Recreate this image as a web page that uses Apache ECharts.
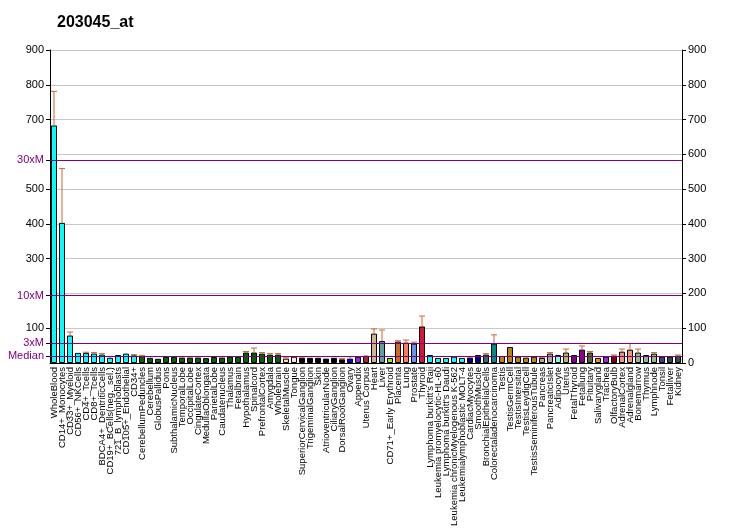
<!DOCTYPE html>
<html>
<head>
<meta charset="utf-8">
<script src="https://cdn.jsdelivr.net/npm/echarts@6/dist/echarts.min.js"></script>
<style>html,body{margin:0;padding:0;background:#fff;}#c{width:732px;height:530px;}</style>
</head>
<body>
<div id="c"></div>
<script>
const title = '203045_at';
const categories = ['WholeBlood','CD14+_Monocytes','CD33+_Myeloid','CD56+_NKCells','CD4+_Tcells','CD8+_Tcells','BDCA4+_DentriticCells','CD19+_BCells(neg._sel.)','721_B_lymphoblasts','CD105+_Endothelial','CD34+',
'CerebellumPeduncles','Cerebellum','GlobusPallidus','Pons','SubthalamicNucleus','TemporalLobe','OccipitalLobe','CingulateCortex','MedullaOblongata','ParietalLobe','Caudatenucleus','Thalamus','Fetalbrain','Hypothalamus','Spinalcord','PrefrontalCortex','Amygdala','Wholebrain',
'SkeletalMuscle','Tongue','SuperiorCervicalGanglion','TrigeminalGanglion','Skin','AtrioventricularNode','CiliaryGanglion','DorsalRootGanglion','Ovary','Appendix','Uterus Corpus','Heart','Liver','CD71+_Early Erythroid','Placenta','Lung','Prostate','Thyroid',
"Lymphoma burkitt's Raji",'Leukemia promyelocytic-HL-60',"Lymphoma burkitt's Daudi",'Leukemia chronicMyelogenous K-562','Leukemialymphoblastic MOLT-4','CardiacMyocytes','SmoothMuscle','BronchialEpithelialCells','Colorectaladenocarcinoma',
'Testis','TestisGermCell','TestisIntersitial','TestisLeydigCell','TestisSeminiferousTubule','Pancreas','PancreaticIslet','Adipocyte','Uterus','FetalThyroid','Fetallung','Pituitary','Salivarygland','Trachea','OlfactoryBulb','AdrenalCortex','Adrenalgland','Bonemarrow','Thymus','Lymphnode','Tonsil','Fetalliver','Kidney'];
const values = [683,403,79,29,29,27,24,15,23,27,22,
20,15,12,18,18,15,15,15,14,17,15,18,18,30,30,27,24,24,
12.5,18,15,15,15,12.5,15,10.6,12.5,18,21,84.5,63,14.4,61.5,58.6,55.7,105,
23,14.4,14.4,18.2,14.4,15.4,23,24,55.7,
20,46,18.2,15.4,18.2,14.4,27,23,30,23,38.4,30,14.4,18.2,21,32.6,38.4,30,23,27,18.2,18.2,21];
const errorTop = [781,559,89,29,31,30,27,19,23,27,24,
22,15,12,18,18,17,17,17,14,17,17,18,18,33,43,30,27,27,
15,18,17,15,15,12.5,15,12.5,18,18,21,98,95,14.4,64,66,60,135,
23,14.4,14.4,18.2,14.4,17,23,27,81,
20,46,18.2,15.4,18.2,15.5,30,23,40,23,49,33,14.4,18.2,23,40,56,40,23,30,18.2,18.2,23];
const barColors = ['#00FFFF','#00FFFF','#00FFFF','#00FFFF','#00FFFF','#00FFFF','#00FFFF','#00FFFF','#00FFFF','#00FFFF','#00FFFF',
'#006400','#006400','#006400','#006400','#006400','#006400','#006400','#006400','#006400','#006400','#006400','#006400','#006400','#006400','#006400','#006400','#006400','#006400',
'#FFDAB9','#FFE4C4','#000000','#000000','#000000','#000000','#000000','#000000','#0000FF','#8A2BE2','#A52A2A','#D2B48C','#5F9EA0','#7FFF00','#D2691E','#FF7F50','#6495ED','#DC143C',
'#00FFFF','#00FFFF','#00FFFF','#00FFFF','#00FFFF','#000080','#000080','#2F6F6F','#008B8B',
'#B8860B','#B8860B','#B8860B','#B8860B','#B8860B','#A9A9A9','#A9A9A9','#7FFFD4','#BDB76B','#8B008B','#8B008B','#556B2F','#FF8C00','#9932CC','#8B0000','#E9967A','#E9967A','#8FBC8F','#8FBC8F','#8FBC8F','#483D8B','#2F4F4F','#2F4F4F'];
const refValues = [19.4, 58, 194, 583];
const refNames = ['Median','3xM','10xM','30xM'];
const leftTickValues = [100,300,400,500,700,800,900];
const rightTickLabels = [0,100,200,300,400,500,600,700,800,900];

const leftAll = leftTickValues.concat(refValues).sort((a,b)=>a-b);
const font = 'Liberation Sans, Arial, sans-serif';
const chart = echarts.init(document.getElementById('c'), null, {renderer:'canvas'});
chart.setOption({
  animation:false,
  backgroundColor:'#fff',
  title:{text:title,left:52,top:10,textStyle:{fontFamily:font,fontSize:16,fontWeight:'bold',color:'#000'}},
  grid:{left:50,right:50,top:50,bottom:167,containLabel:false},
  xAxis:{type:'category',data:categories,
    axisLine:{lineStyle:{color:'#000',width:1}},
    axisTick:{alignWithLabel:true,length:4,lineStyle:{color:'#000'}},
    axisLabel:{interval:0,rotate:90,fontSize:9.5,fontFamily:font,color:'#000',margin:4}},
  yAxis:[
    {type:'value',min:0,max:900,position:'left',
     axisLine:{show:true,lineStyle:{color:'#000'}},
     axisTick:{show:true,length:4,customValues:leftAll,lineStyle:{color:'#000'}},
     axisLabel:{customValues:leftAll,fontSize:11,fontFamily:font,margin:6,
       formatter:function(v){const k=refValues.indexOf(v);return k>=0?refNames[k]:String(v);},
       color:function(v){return refValues.indexOf(Number(v))>=0?'#800080':'#000';}},
     splitLine:{show:false}},
    {type:'value',min:0,max:900,interval:100,position:'right',
     axisLine:{show:true,lineStyle:{color:'#000'}},
     axisTick:{show:true,length:4,lineStyle:{color:'#000'}},
     axisLabel:{fontSize:11,fontFamily:font,color:'#000',margin:6,
       formatter:function(v){return rightTickLabels.indexOf(v)>=0?String(v):'';}},
     splitLine:{show:true,lineStyle:{color:'#C8C8C8',width:1}}}
  ],
  series:[
    {type:'bar',yAxisIndex:0,barWidth:6,z:3,
     data:values.map((v,i)=>({value:v,itemStyle:{color:barColors[i]}})),
     itemStyle:{borderColor:'#000',borderWidth:1},
     markLine:{silent:true,symbol:'none',label:{show:false},
       lineStyle:{color:'#800080',width:1,type:'solid'},
       data:refValues.map(v=>({yAxis:v}))}},
    {type:'custom',yAxisIndex:0,z:4,
     data:values.map((v,i)=>[i,v,errorTop[i]]),
     renderItem:function(params,api){
       const i=api.value(0), v=api.value(1), e=api.value(2);
       if(!(e>v)) return null;
       const b=api.coord([i,v]), t=api.coord([i,e]);
       const st={stroke:'#CC6633',lineWidth:1};
       return {type:'group',children:[
         {type:'line',shape:{x1:t[0],y1:b[1],x2:t[0],y2:t[1]},style:st},
         {type:'line',shape:{x1:t[0]-3,y1:t[1],x2:t[0]+3,y2:t[1]},style:st}]};
     }}
  ]
});
</script>
</body>
</html>
